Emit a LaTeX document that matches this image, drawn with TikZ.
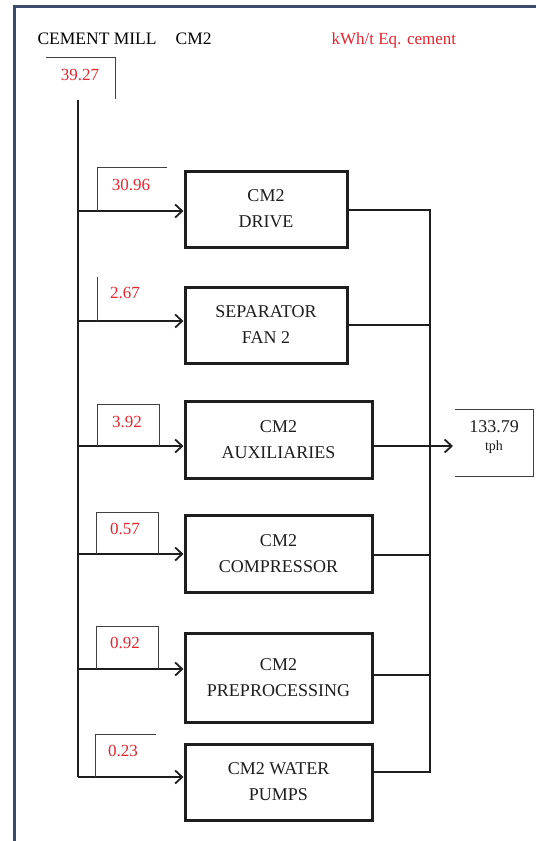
\documentclass[tikz,border=0pt]{standalone}
\usepackage{fontspec}
\setmainfont{Liberation Serif}
\usetikzlibrary{arrows.meta, positioning, calc}
\definecolor{millFrame}{HTML}{3B4C6B}
\definecolor{millRed}{HTML}{E3262F}
\definecolor{millInk}{HTML}{1E1E1E}

\begin{document}
\begin{tikzpicture}[
  x=1pt, y=-1pt,
  >={Straight Barb[length=7pt, width=13pt]},
  font=\fontsize{18}{26}\selectfont,
  feed/.style={->, line width=1.8pt, draw=millInk},
  bus/.style={line width=2.4pt, draw=millInk},
  unitbox/.style={draw=millInk, line width=3pt, align=center, text=millInk, inner sep=0pt},
  tag/.style={text=millRed, font=\fontsize{17}{20}\selectfont},
  tagline/.style={line width=0.9pt, draw=millInk!85}
]
  \fill[white] (0,0) rectangle (536,841);
  \useasboundingbox (0,0) rectangle (536,841);
  \draw[millFrame, line width=3pt] (14.5,841) -- (14.5,6) -- (536,6);

  \node[anchor=base west, font=\fontsize{17.5}{20}\selectfont] (title) at (34,44) {CEMENT MILL\hspace{19pt}CM2};
  \node[anchor=base west, text=millRed, font=\fontsize{17}{20}\selectfont] (unit) at (328,44) {kWh/t Eq. cement};

  % total input
  \node[tag] (v0) at (80,75) {39.27};
  \draw[tagline] (46,57) -- (115,57) -- (115,99);

  % units
  \node[unitbox, minimum width=162pt, minimum height=76pt] (drive) at (266,209) {CM2\\DRIVE};
  \node[unitbox, minimum width=162pt, minimum height=76pt] (sep) at (266,325) {SEPARATOR\\FAN 2};
  \node[unitbox, minimum width=187pt, minimum height=77pt] (aux) at (278.5,439.5) {CM2\\AUXILIARIES};
  \node[unitbox, minimum width=187pt, minimum height=77pt] (comp) at (278.5,553.5) {CM2\\COMPRESSOR};
  \node[unitbox, minimum width=187pt, minimum height=89pt] (pre) at (278.5,677.5) {CM2\\PREPROCESSING};
  \node[unitbox, minimum width=187pt, minimum height=76pt] (pumps) at (278.5,782) {CM2 WATER\\PUMPS};

  % feeds
  \coordinate (trunk) at (78,100);
  \coordinate (b1) at (78,211);
  \coordinate (b2) at (78,321);
  \coordinate (b3) at (78,446);
  \coordinate (b4) at (78,554);
  \coordinate (b5) at (78,669);
  \coordinate (b6) at (78,777);

  \draw[bus] (trunk) -- (b6);
  \draw[feed] (b1) -- (b1 -| drive.west);
  \draw[feed] (b2) -- (b2 -| sep.west);
  \draw[feed] (b3) -- (b3 -| aux.west);
  \draw[feed] (b4) -- (b4 -| comp.west);
  \draw[feed] (b5) -- (b5 -| pre.west);
  \draw[feed] (b6) -- (b6 -| pumps.west);

  \node[tag] (v1) at (131,185) {30.96};
  \draw[tagline] (167,167) -- (97,167) -- (97,211);
  \node[tag] (v2) at (125,293) {2.67};
  \draw[tagline] (97,277) -- (97,321);
  \node[tag] (v3) at (127,422) {3.92};
  \draw[tagline] (97,446) -- (97,404) -- (159,404) -- (159,446);
  \node[tag] (v4) at (125,529) {0.57};
  \draw[tagline] (96,554) -- (96,512) -- (158,512) -- (158,554);
  \node[tag] (v5) at (125,643) {0.92};
  \draw[tagline] (96,669) -- (96,626) -- (158,626) -- (158,669);
  \node[tag] (v6) at (123,751) {0.23};
  \draw[tagline] (156,734) -- (95,734) -- (95,777);

  % collector
  \coordinate (o1) at (430,210);
  \coordinate (o2) at (430,325);
  \coordinate (o3) at (430,446);
  \coordinate (o4) at (430,555);
  \coordinate (o5) at (430,675);
  \coordinate (o6) at (430,772);

  \draw[bus] (o1 -| drive.east) -- (o1) -- (o6) -- (o6 -| pumps.east);
  \draw[bus] (o2 -| sep.east) -- (o2);
  \draw[bus] (o4 -| comp.east) -- (o4);
  \draw[bus] (o5 -| pre.east) -- (o5);

  % output
  \node[align=center, text=millInk, font=\fontsize{18}{20}\selectfont] (out) at (494,437)
    {133.79\\[-2pt]{\fontsize{14}{15}\selectfont tph}};
  \draw[tagline] (455,409) -- (533,409) -- (533,476) -- (455,476);
  \coordinate (outin) at (453,446);
  \draw[feed] (o3 -| aux.east) -- (outin);
\end{tikzpicture}
\end{document}
